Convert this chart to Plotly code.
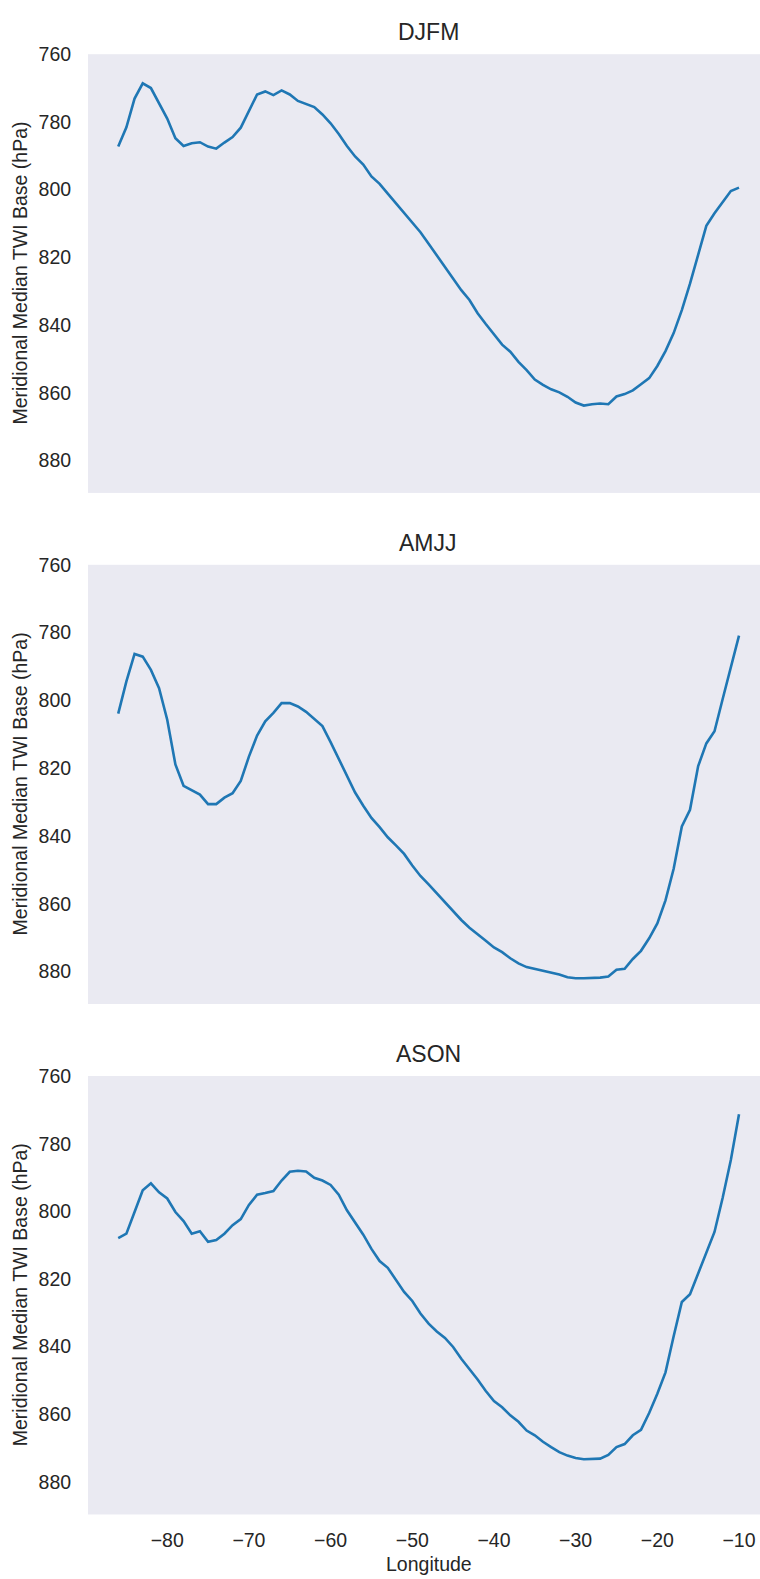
import plotly.graph_objects as go

longitude = list(range(-86, -9))

djfm = [787.3, 781.6, 773.1, 768.6, 770.0, 774.6, 779.0, 784.8, 787.1, 786.3,
        786.0, 787.3, 787.9, 786.1, 784.5, 781.7, 776.8, 771.9, 771.0, 772.1,
        770.7, 771.9, 773.8, 774.6, 775.6, 777.8, 780.4, 783.6, 787.1, 790.2,
        792.6, 796.1, 798.3, 801.2, 804.1, 807.1, 809.7, 812.6, 816.0, 819.5,
        822.9, 826.5, 829.7, 832.6, 836.5, 839.7, 842.9, 845.8, 847.9, 850.9,
        853.3, 856.1, 857.7, 859.0, 859.9, 861.2, 862.9, 863.8, 863.4, 863.2,
        863.4, 861.1, 860.4, 859.3, 857.5, 855.7, 852.1, 847.7, 842.4, 835.6,
        827.8, 819.0, 810.7, 807.0, 803.7, 800.4, 799.4]

amjj = [803.9, 794.4, 786.3, 787.1, 791.0, 796.4, 805.7, 818.9, 825.2, 826.5,
        827.8, 830.6, 830.6, 828.7, 827.4, 823.8, 816.6, 810.4, 806.2, 803.7,
        800.8, 800.8, 801.8, 803.4, 805.5, 807.6, 812.3, 817.4, 822.5, 827.2,
        831.1, 834.7, 837.4, 840.4, 842.8, 845.3, 848.7, 851.8, 854.3, 857.0,
        859.7, 862.4, 864.8, 867.1, 868.9, 870.9, 872.9, 874.3, 876.1, 877.6,
        878.7, 879.2, 879.7, 880.3, 880.9, 881.7, 882.0, 882.0, 882.0, 881.8,
        881.5, 879.5, 879.2, 876.3, 873.9, 870.2, 865.8, 859.0, 849.7, 837.2,
        832.3, 819.4, 812.7, 809.1, 799.6, 790.5, 780.9]

ason = [807.9, 806.6, 800.2, 793.8, 791.7, 794.4, 796.2, 800.2, 802.9, 806.6,
        805.9, 809.0, 808.5, 806.6, 804.1, 802.3, 798.1, 795.1, 794.6, 794.0,
        790.9, 788.3, 788.0, 788.2, 790.1, 790.9, 792.2, 795.1, 799.7, 803.2,
        806.9, 811.1, 814.7, 816.7, 820.2, 823.8, 826.5, 830.2, 833.2, 835.5,
        837.4, 840.1, 843.6, 846.5, 849.7, 853.1, 856.1, 857.9, 860.3, 862.2,
        864.8, 866.2, 868.1, 869.7, 871.2, 872.2, 872.9, 873.3, 873.3, 873.1,
        872.0, 869.7, 868.8, 866.2, 864.6, 859.6, 853.9, 847.6, 836.9, 826.8,
        824.5, 818.3, 811.9, 806.1, 796.0, 784.8, 771.3]

seasons = ["DJFM", "AMJJ", "ASON"]
series = [djfm, amjj, ason]
y_ticks = [760, 780, 800, 820, 840, 860, 880]
x_ticks = [-80, -70, -60, -50, -40, -30, -20, -10]

W, H = 760, 1579
L = 88
# panel pixel boxes (top, bottom)
boxes = [(43.5, 485.3), (557.7, 1000.0), (1072.5, 1514.0)]

FONT = "Liberation Sans, Arial, sans-serif"
TXT = "#262626"
BG = "#EAEAF2"
LINE = "#1f77b4"

fig = go.Figure()
annotations = []
for i, (name, vals) in enumerate(zip(seasons, series)):
    k = "" if i == 0 else str(i + 1)
    fig.add_trace(go.Scatter(x=longitude, y=vals, mode="lines",
                             line=dict(color=LINE, width=2.6),
                             xaxis="x" + k, yaxis="y" + k, showlegend=False))
    top, bot = boxes[i]
    dom = [1 - bot / H, 1 - top / H]
    show_x = (i == 2)
    fig.update_layout(**{
        "xaxis" + k: dict(domain=[0, 1], range=[-89.7, -7.43], anchor="y" + k,
                          tickvals=x_ticks, ticktext=["\u2212" + str(abs(t)) for t in x_ticks],
                          showticklabels=show_x, showgrid=False, zeroline=False,
                          showline=False, ticks="outside", ticklen=8,
                          tickcolor="rgba(0,0,0,0)",
                          tickfont=dict(family=FONT, size=19.5, color=TXT)),
        "yaxis" + k: dict(domain=dom, range=[889.6, 760], anchor="x" + k,
                          tickvals=y_ticks, showgrid=False, zeroline=False,
                          showline=False, ticks="outside", ticklen=12,
                          tickcolor="rgba(0,0,0,0)",
                          tickfont=dict(family=FONT, size=19.5, color=TXT)),
    })
    # title
    annotations.append(dict(text=name, xref="paper", yref="paper",
                            x=(428 - L) / (W - L), y=1 - (top - 22) / H,
                            xanchor="center", yanchor="middle", showarrow=False,
                            font=dict(family=FONT, size=23, color=TXT)))
    # y axis title
    annotations.append(dict(text="Meridional Median TWI Base (hPa)", xref="paper", yref="paper",
                            x=(20 - L) / (W - L), y=1 - ((top + bot) / 2) / H,
                            xanchor="center", yanchor="middle", showarrow=False,
                            textangle=-90,
                            font=dict(family=FONT, size=19.5, color=TXT)))

annotations.append(dict(text="Longitude", xref="paper", yref="paper",
                        x=(428.5 - L) / (W - L), y=1 - 1564 / H,
                        xanchor="center", yanchor="middle", showarrow=False,
                        font=dict(family=FONT, size=19.5, color=TXT)))

fig.update_layout(width=W, height=H, margin=dict(l=L, r=0, t=0, b=0),
                  paper_bgcolor="white", plot_bgcolor=BG,
                  annotations=annotations)

fig.write_html("out.html", config={"displayModeBar": False},
               post_script="document.body.style.margin='0';document.body.style.overflow='hidden';")
